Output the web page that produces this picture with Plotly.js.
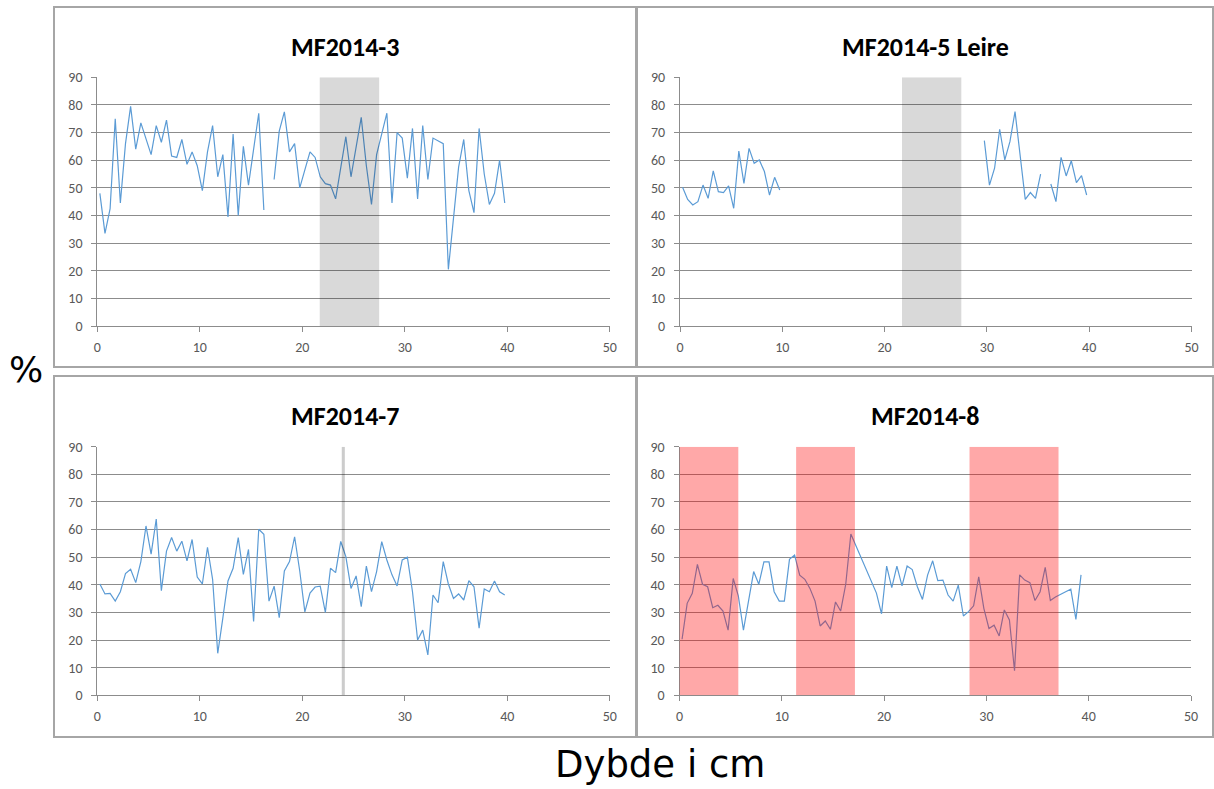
<!DOCTYPE html>
<html>
<head>
<meta charset="utf-8">
<script src="https://cdn.plot.ly/plotly-3.0.1.min.js"></script>
<style>html,body{margin:0;padding:0;background:#fff;}#chart{width:1214px;height:789px;}</style>
</head>
<body>
<div id="chart"></div>
<script>
// ---- data ----
const panelTitles = ["MF2014-3", "MF2014-5 Leire", "MF2014-7", "MF2014-8"];
const xLabel = "Dybde i cm";
const yLabel = "%";

const depth3 = [0.25,0.75,1.25,1.75,2.25,2.75,3.25,3.75,4.25,4.75,5.25,5.75,6.25,6.75,7.25,7.75,8.25,8.75,9.25,9.75,
  10.25,10.75,11.25,11.75,12.25,12.75,13.25,13.75,14.25,14.75,15.25,15.75,16.25,16.75,17.25,17.75,18.25,18.75,19.25,19.75,
  20.25,20.75,21.25,21.75,22.25,22.75,23.25,23.75,24.25,24.75,25.25,25.75,26.25,26.75,27.25,27.75,28.25,28.75,29.25,29.75,
  30.25,30.75,31.25,31.75,32.25,32.75,33.25,33.75,34.25,34.75,35.25,35.75,36.25,36.75,37.25,37.75,38.25,38.75,39.25,39.75];
const val3 = [48,33.5,42.5,75,44.5,66,79.5,64,73.5,68,62,72.5,66.5,74.5,61.5,61,67.5,58.5,63,58,
  49,63,72.5,54,62,39.5,69.5,40,65,51,65,77,42,null,53,70.5,77.5,63,66,50,
  56.5,63,61,54,51.5,51,46,57,68.5,54,64,75.5,58,44,62,70,77,44.5,70,68,
  53.5,71.5,46,72.5,53,68,67,66,20.5,39,57.5,67.5,49,41,71.5,55,44,48,60,44.5];

const depth5 = [0.25,0.75,1.25,1.75,2.25,2.75,3.25,3.75,4.25,4.75,5.25,5.75,6.25,6.75,7.25,7.75,8.25,8.75,9.25,9.75,
  10.25,29.75,30.25,30.75,31.25,31.75,32.25,32.75,33.25,33.75,34.25,34.75,35.25,35.75,36.25,36.75,37.25,37.75,38.25,38.75,39.25,39.75];
const val5 = [50.2,45.8,43.8,45,51,46.2,56.1,48.6,48.3,50.7,42.6,63.3,51.6,64.3,58.9,60.1,55.9,47.4,53.8,49.2,
  null,67.1,51,57.1,71.2,60.1,66.7,77.6,62,45.8,48.3,46.2,55,null,51.4,45,61,54.3,59.8,51.9,54.4,47.4];

const depth7 = depth3;
const val7 = [40.3,36.7,36.9,34.1,37.5,44.1,45.6,40.8,48.4,61.3,51.1,63.8,37.9,52.2,57.1,52.2,55.8,48.7,56.4,42.8,
  40.3,53.6,42,15.2,28,41.4,46,57.1,43.8,52.8,26.7,60.1,58.3,34.1,39.5,28.1,45,48.4,57.4,45,
  30.2,37,39.2,39.5,30,46,44.4,55.7,50.2,38.7,43.2,32.1,46.8,37.5,44.8,55.6,49,43.6,39.6,49,
  50,37.5,20,23.6,14.6,36.3,33.5,48.4,40.3,35.1,36.7,34.5,41.5,39.3,24.3,38.5,37.5,41.4,37.5,36.3];

const depth8 = depth3.slice(0, 79);
const val8 = [20.3,33.3,36.9,47.4,40.2,39.3,31.7,32.6,30.5,23.6,42.3,36,23.6,34.7,44.8,40.2,48.3,48.3,37.5,34.1,
  34.1,49.2,50.8,43.5,42,38.7,34.1,25.1,26.9,23.9,33.8,30.5,40.2,58.4,54,49.6,45.5,41.5,37,29.5,
  46.8,39,46.8,39.6,46.8,45.5,39.3,34.7,43.5,48.7,41.5,41.7,36.3,34.1,39.9,28.7,30.3,32.4,42.9,31.5,
  24.2,25.4,21.5,30.9,27.3,8.9,43.6,41.7,40.8,34.3,37.5,46.3,34.3,35.6,36.7,37.5,38.4,27.5,43.6];

// highlighted depth intervals [from, to]
const greyBand = [21.7, 27.5];          // MF2014-3 and MF2014-5 Leire
const markerLine7 = [23.85, 24.15];     // MF2014-7
const redBands8 = [[0, 5.75], [11.4, 17.15], [28.35, 37.05]];

// ---- layout helpers ----
const W = 1214, H = 789;
const px = v => v / W;
const py = v => 1 - v / H;

const panels = [
  {x: [97.3, 609.8], y: [77.3, 326], box: [54, 7, 636, 367]},
  {x: [680, 1191.5], y: [77.3, 326], box: [637, 7, 1213, 367]},
  {x: [97.3, 609.8], y: [446.7, 695.3], box: [54, 376, 636, 737]},
  {x: [679.5, 1191], y: [446.7, 695.3], box: [637, 376, 1213, 737]}
];
const series = [[depth3, val3], [depth5, val5], [depth7, val7], [depth8, val8]];

const tickFont = {family: "Carlito, Lato, 'Open Sans', sans-serif", size: 14, color: "#595959"};
const gridC = "#8c8c8c";

const data = [];
const layout = {
  width: W, height: H,
  margin: {l: 0, r: 0, t: 0, b: 0},
  paper_bgcolor: "#fff", plot_bgcolor: "rgba(0,0,0,0)",
  showlegend: false,
  shapes: [], annotations: []
};

panels.forEach((p, i) => {
  const n = i === 0 ? "" : String(i + 1);
  const xa = "xaxis" + n, ya = "yaxis" + n;
  const xr = "x" + n, yr = "y" + n;
  data.push({
    x: series[i][0], y: series[i][1], xaxis: xr, yaxis: yr,
    type: "scatter", mode: "lines", connectgaps: false,
    line: {color: "#5b9bd5", width: 1.2}, hoverinfo: "x+y"
  });
  layout[xa] = {
    domain: [px(p.x[0]), px(p.x[1])], anchor: yr, range: [0, 50],
    tickvals: [0, 10, 20, 30, 40, 50], showgrid: false, zeroline: false,
    showline: true, linecolor: gridC, linewidth: 1,
    ticks: "outside", ticklen: 5, tickcolor: gridC, tickfont: tickFont, ticklabelstandoff: 3
  };
  layout[ya] = {
    domain: [py(p.y[1]), py(p.y[0])], anchor: xr, range: [0, 90],
    tickvals: [0,10,20,30,40,50,60,70,80,90], showgrid: true, gridcolor: gridC, gridwidth: 1,
    zeroline: false, showline: true, linecolor: gridC, linewidth: 1,
    ticks: "outside", ticklen: 5, tickcolor: gridC, tickfont: tickFont, ticklabelstandoff: 6
  };
  // border box
  layout.shapes.push({
    type: "rect", xref: "paper", yref: "paper",
    x0: px(p.box[0]), x1: px(p.box[2]), y0: py(p.box[3]), y1: py(p.box[1]),
    line: {color: "#a6a6a6", width: 2}, fillcolor: "rgba(0,0,0,0)", layer: "below"
  });
  // title
  layout.annotations.push({
    text: "<b>" + panelTitles[i] + "</b>", xref: "paper", yref: "paper",
    x: px((p.box[0] + p.box[2]) / 2), y: py(p.box[1] + 40), xanchor: "center", yanchor: "middle",
    showarrow: false, font: {family: "Carlito, Lato, 'Open Sans', sans-serif", size: 26, color: "#000"}
  });
});

// bands
function band(axisN, x0, x1, color) {
  layout.shapes.push({
    type: "rect", xref: "x" + axisN, yref: "y" + axisN, x0: x0, x1: x1, y0: 0, y1: 90,
    fillcolor: color, line: {width: 0}, layer: "above"
  });
}
band("", greyBand[0], greyBand[1], "rgba(0,0,0,0.15)");
band("2", greyBand[0], greyBand[1], "rgba(0,0,0,0.15)");
band("3", markerLine7[0], markerLine7[1], "rgba(0,0,0,0.2)");
redBands8.forEach(b => band("4", b[0], b[1], "rgba(255,0,0,0.34)"));

layout.annotations.push({
  text: yLabel, xref: "paper", yref: "paper", x: px(26), y: py(369),
  xanchor: "center", yanchor: "middle", showarrow: false,
  font: {family: "'DejaVu Sans', sans-serif", size: 36, color: "#000"}
});
layout.annotations.push({
  text: xLabel, xref: "paper", yref: "paper", x: px(660), y: py(764),
  xanchor: "center", yanchor: "middle", showarrow: false,
  font: {family: "'DejaVu Sans', sans-serif", size: 37, color: "#000"}
});

Plotly.newPlot("chart", data, layout, {displayModeBar: false, staticPlot: true});
</script>
</body>
</html>
